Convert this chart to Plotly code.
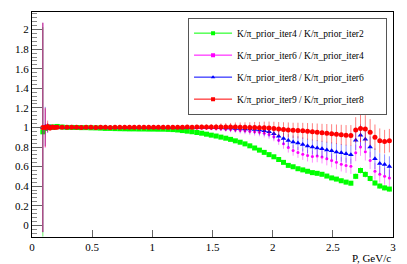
import plotly.graph_objects as go

# Bin centres (P, GeV/c)
p_vals = [0.09, 0.11, 0.13, 0.15, 0.17, 0.19, 0.21, 0.25, 0.29, 0.33,
          0.37, 0.41, 0.45, 0.49, 0.53, 0.57, 0.61, 0.65, 0.69, 0.73,
          0.77, 0.81, 0.85, 0.89, 0.93, 0.97, 1.01, 1.05, 1.09, 1.13,
          1.17, 1.21, 1.25, 1.29, 1.33, 1.37, 1.41, 1.45, 1.49, 1.53,
          1.57, 1.61, 1.65, 1.69, 1.73, 1.77, 1.81, 1.85, 1.89, 1.93,
          1.97, 2.01, 2.05, 2.09, 2.13, 2.17, 2.21, 2.25, 2.29, 2.33,
          2.37, 2.41, 2.45, 2.49, 2.53, 2.57, 2.61, 2.65, 2.69, 2.73,
          2.77, 2.81, 2.85, 2.89, 2.93, 2.97]

# iter4 / iter2 (green)
green_y = [0.955, 0.99, 1.0, 1.005, 1.0, 1.005, 1.01, 1.004, 1.0, 1.0,
           0.999, 0.998, 0.998, 0.996, 0.995, 0.993, 0.99, 0.99, 0.988, 0.987,
           0.986, 0.985, 0.985, 0.984, 0.984, 0.983, 0.983, 0.982, 0.982, 0.98,
           0.978, 0.974, 0.968, 0.962, 0.956, 0.948, 0.941, 0.931, 0.921, 0.912,
           0.901, 0.89, 0.878, 0.863, 0.849, 0.832, 0.812, 0.79, 0.768, 0.745,
           0.722, 0.7, 0.672, 0.643, 0.612, 0.598, 0.578, 0.566, 0.552, 0.538,
           0.531, 0.521, 0.503, 0.484, 0.472, 0.455, 0.441, 0.43, 0.5, 0.56,
           0.52, 0.478, 0.432, 0.401, 0.382, 0.37]
green_err = [1.07, 0.02, 0.01, 0.006, 0.005, 0.004, 0.004, 0.003, 0.003, 0.003,
             0.003, 0.003, 0.003, 0.003, 0.003, 0.003, 0.003, 0.003, 0.003, 0.003,
             0.003, 0.003, 0.003, 0.004, 0.004, 0.004, 0.004, 0.004, 0.005, 0.005,
             0.005, 0.005, 0.006, 0.006, 0.006, 0.007, 0.007, 0.008, 0.008, 0.009,
             0.009, 0.01, 0.01, 0.011, 0.011, 0.012, 0.012, 0.013, 0.013, 0.014,
             0.014, 0.015, 0.015, 0.016, 0.016, 0.017, 0.017, 0.018, 0.018, 0.019,
             0.019, 0.02, 0.02, 0.021, 0.021, 0.022, 0.022, 0.023, 0.028, 0.03,
             0.03, 0.029, 0.027, 0.026, 0.025, 0.025]

# iter6 / iter4 (magenta)
magenta_y = [1.0, 0.99, 1.008, 1.0, 1.003, 0.999, 1.004, 1.002, 1.001, 1.0,
             1.0, 1.0, 1.001, 1.0, 1.0, 1.0, 1.0, 1.0, 1.0, 0.999,
             1.0, 0.999, 1.0, 0.999, 0.999, 0.999, 0.999, 0.998, 0.999, 0.998,
             0.998, 0.998, 0.997, 0.997, 0.996, 0.995, 0.994, 0.993, 0.991, 0.988,
             0.986, 0.982, 0.978, 0.975, 0.97, 0.965, 0.96, 0.955, 0.95, 0.94,
             0.928, 0.905, 0.87, 0.832, 0.795, 0.765, 0.745, 0.726, 0.712, 0.702,
             0.708, 0.698, 0.68, 0.662, 0.645, 0.624, 0.612, 0.602, 0.74, 0.8,
             0.752, 0.662, 0.552, 0.522, 0.5, 0.482]
magenta_err = [1.07, 0.2, 0.04, 0.02, 0.012, 0.01, 0.008, 0.005, 0.005, 0.004,
               0.004, 0.004, 0.004, 0.004, 0.004, 0.004, 0.004, 0.004, 0.004, 0.004,
               0.005, 0.005, 0.005, 0.005, 0.006, 0.006, 0.006, 0.007, 0.007, 0.008,
               0.009, 0.01, 0.011, 0.012, 0.013, 0.014, 0.016, 0.018, 0.02, 0.022,
               0.024, 0.026, 0.028, 0.03, 0.032, 0.034, 0.036, 0.038, 0.04, 0.042,
               0.044, 0.046, 0.048, 0.05, 0.052, 0.054, 0.056, 0.058, 0.06, 0.062,
               0.064, 0.066, 0.068, 0.07, 0.072, 0.074, 0.076, 0.078, 0.085, 0.09,
               0.09, 0.088, 0.086, 0.085, 0.085, 0.085]

# iter8 / iter6 (blue)
blue_y = [1.0, 1.01, 0.995, 1.004, 1.0, 1.002, 1.001, 1.0, 1.0, 1.001,
          1.0, 1.0, 1.0, 1.001, 1.0, 1.0, 1.001, 1.0, 1.0, 1.0,
          1.0, 1.0, 1.0, 1.001, 1.0, 1.0, 1.0, 1.0, 1.001, 1.0,
          1.0, 1.0, 1.0, 1.0, 1.0, 0.999, 1.0, 0.999, 0.999, 0.998,
          0.997, 0.995, 0.993, 0.99, 0.988, 0.985, 0.983, 0.98, 0.975, 0.966,
          0.955, 0.935, 0.91, 0.886, 0.866, 0.851, 0.84, 0.826, 0.81, 0.8,
          0.79, 0.781, 0.77, 0.761, 0.75, 0.74, 0.731, 0.722, 0.87, 0.92,
          0.88, 0.8, 0.68, 0.632, 0.62, 0.6]
blue_err = [1.07, 0.2, 0.05, 0.025, 0.015, 0.012, 0.009, 0.006, 0.005, 0.005,
            0.005, 0.005, 0.005, 0.005, 0.005, 0.005, 0.005, 0.005, 0.005, 0.005,
            0.006, 0.006, 0.006, 0.006, 0.007, 0.007, 0.008, 0.008, 0.009, 0.01,
            0.011, 0.012, 0.013, 0.015, 0.016, 0.018, 0.02, 0.022, 0.024, 0.027,
            0.03, 0.032, 0.035, 0.037, 0.04, 0.042, 0.045, 0.047, 0.05, 0.052,
            0.055, 0.057, 0.06, 0.062, 0.065, 0.067, 0.07, 0.072, 0.075, 0.077,
            0.08, 0.082, 0.084, 0.086, 0.088, 0.09, 0.092, 0.094, 0.1, 0.11,
            0.11, 0.108, 0.106, 0.105, 0.105, 0.105]

# iter9 / iter8 (red)
red_y = [1.0, 1.0, 1.01, 0.995, 1.005, 1.0, 1.003, 1.002, 1.001, 1.001,
         1.001, 1.0, 1.001, 1.001, 1.0, 1.001, 1.001, 1.0, 1.001, 1.001,
         1.002, 1.001, 1.002, 1.002, 1.001, 1.002, 1.002, 1.002, 1.003, 1.002,
         1.003, 1.003, 1.003, 1.004, 1.003, 1.004, 1.004, 1.004, 1.005, 1.004,
         1.005, 1.005, 1.004, 1.005, 1.003, 1.002, 1.0, 1.0, 0.998, 0.997,
         0.995, 0.99, 0.985, 0.98, 0.975, 0.97, 0.968, 0.965, 0.96, 0.955,
         0.95, 0.945, 0.94, 0.935, 0.93, 0.925, 0.92, 0.918, 0.975, 0.99,
         0.985, 0.95, 0.9, 0.865, 0.855, 0.865]
red_err = [1.07, 0.2, 0.06, 0.03, 0.02, 0.015, 0.01, 0.007, 0.006, 0.006,
           0.006, 0.006, 0.006, 0.006, 0.006, 0.006, 0.006, 0.006, 0.006, 0.006,
           0.007, 0.007, 0.007, 0.008, 0.008, 0.009, 0.01, 0.01, 0.011, 0.012,
           0.013, 0.014, 0.016, 0.018, 0.02, 0.022, 0.024, 0.027, 0.03, 0.033,
           0.036, 0.039, 0.042, 0.045, 0.048, 0.05, 0.053, 0.056, 0.059, 0.062,
           0.065, 0.068, 0.07, 0.073, 0.076, 0.078, 0.08, 0.082, 0.085, 0.088,
           0.09, 0.092, 0.095, 0.098, 0.1, 0.102, 0.104, 0.106, 0.13, 0.14,
           0.14, 0.135, 0.13, 0.125, 0.12, 0.12]

series_names = ["K/π_prior_iter4 / K/π_prior_iter2",
                "K/π_prior_iter6 / K/π_prior_iter4",
                "K/π_prior_iter8 / K/π_prior_iter6",
                "K/π_prior_iter9 / K/π_prior_iter8"]

series = [
    (green_y, green_err, "#00ff00", "rgba(0,230,0,0.6)", "square", 5),
    (magenta_y, magenta_err, "#ff00ff", "rgba(255,0,255,0.45)", "circle", 3),
    (blue_y, blue_err, "#0000ff", "rgba(0,0,255,0.45)", "triangle-up", 5),
    (red_y, red_err, "#ff0000", "rgba(255,0,0,0.5)", "circle", 5),
]

FONT = "Liberation Serif"
PAD = "\u00a0" * 7  # right-hand blank space inside the legend box
fig = go.Figure()

for name, (yv, ev, col, ecol, sym, msz) in zip(series_names, series):
    fig.add_trace(go.Scatter(
        x=p_vals, y=yv, mode="markers", showlegend=False,
        marker=dict(color=col, symbol=sym, size=msz, line=dict(width=0)),
        error_y=dict(type="data", array=ev, visible=True, color=ecol,
                     thickness=1, width=0),
    ))

for i, (name, (yv, ev, col, ecol, sym, msz)) in enumerate(zip(series_names, series)):
    fig.add_trace(go.Scatter(
        x=[None], y=[None], mode="lines+markers", name=name + PAD,
        legendgroup=f"g{i}",
        line=dict(color=col, width=1),
        marker=dict(color=col, symbol="square" if i != 2 else "triangle-up", size=4),
    ))

fig.update_layout(
    width=407, height=264,
    margin=dict(l=32, r=11, t=11, b=27),
    paper_bgcolor="white", plot_bgcolor="white",
    font=dict(family=FONT, color="black"),
    showlegend=True,
    legend=dict(
        x=0.9835, xanchor="right", y=0.975, yanchor="top",
        bgcolor="white", bordercolor="#555", borderwidth=1,
        font=dict(family=FONT, size=9.5, color="black"),
        tracegroupgap=3, itemwidth=38,
    ),
    xaxis=dict(
        range=[0, 3], tickvals=[0, 0.5, 1, 1.5, 2, 2.5, 3],
        ticktext=["0", "0.5", "1", "1.5", "2", "2.5", "3"],
        ticks="inside", ticklen=7, tickcolor="#666", tickwidth=1,
        showgrid=False, zeroline=False,
        showline=True, linecolor="black", linewidth=1, mirror=True,
        tickfont=dict(family=FONT, size=11, color="black"),
    ),
    yaxis=dict(
        range=[-0.12, 2.18], tick0=0, dtick=0.2,
        ticks="inside", ticklen=10, tickcolor="#666", tickwidth=1,
        minor=dict(dtick=0.04, tick0=0, ticks="inside", ticklen=5, tickcolor="#888"),
        showgrid=False, zeroline=False,
        showline=True, linecolor="black", linewidth=1, mirror=True,
        tickfont=dict(family=FONT, size=11, color="black"),
    ),
    annotations=[dict(
        text="P, GeV/c", xref="paper", yref="paper", x=1, y=0,
        xanchor="right", yanchor="top", yshift=-13, showarrow=False,
        font=dict(family=FONT, size=11, color="black"),
    )],
)

fig.write_html("out.html",
               config={"displayModeBar": False},
               post_script="document.body.style.margin='0';document.body.style.overflow='hidden';")
